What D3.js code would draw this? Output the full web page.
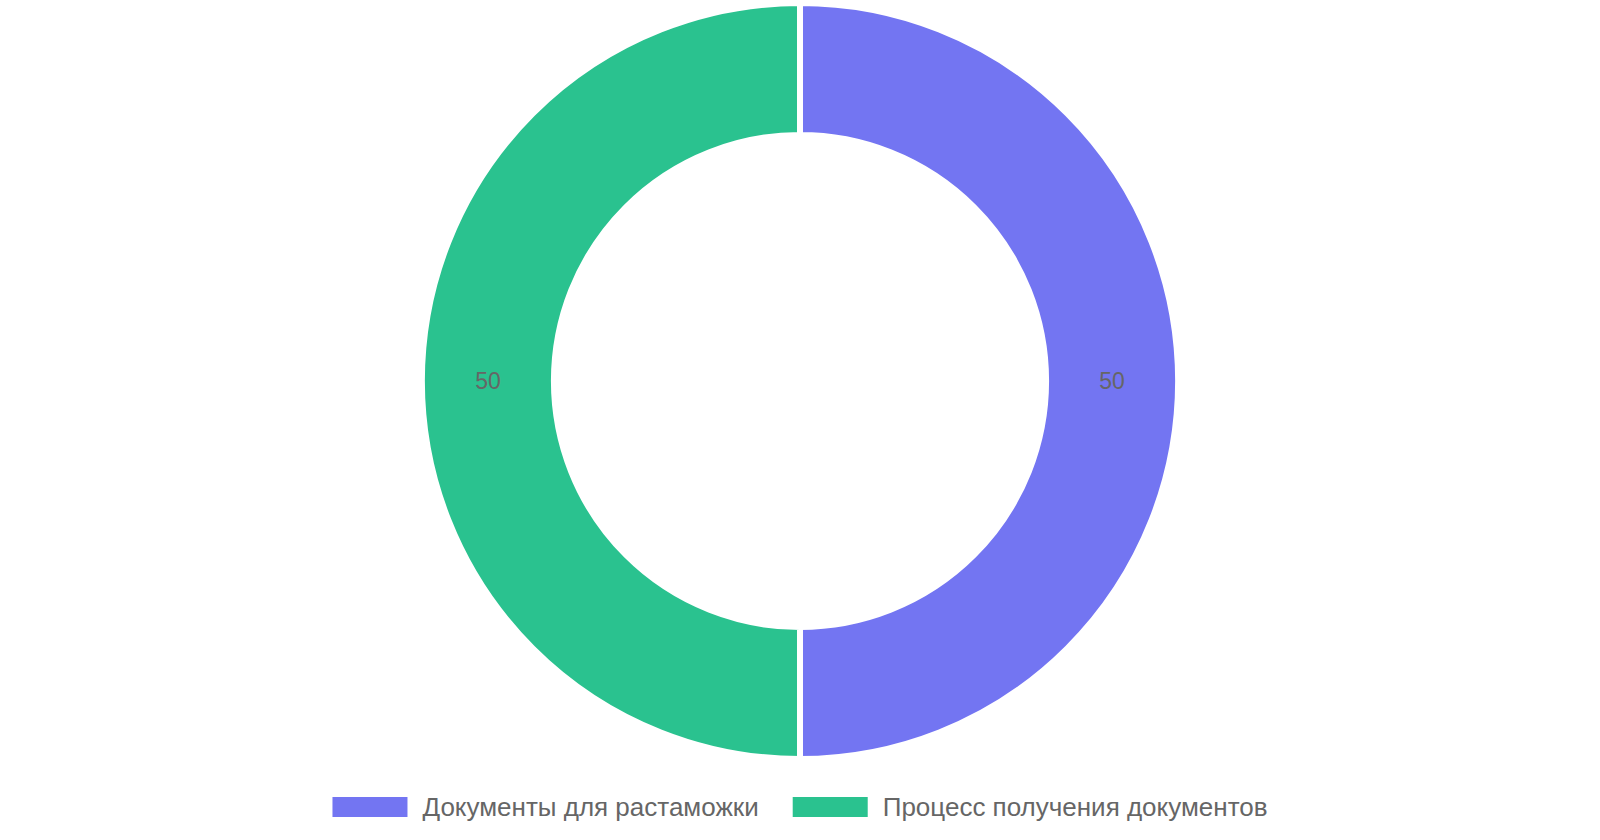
<!DOCTYPE html>
<html lang="ru">
  <head>
    <meta charset="UTF-8" />
    <title>Doughnut</title>
    <style>
      body {
        margin: 0;
        background: #fff;
      }

      text {
        font-family: "Liberation Sans", Arial, sans-serif;
        fill: #666;
      }

      .slice {
        stroke: #fff;
        stroke-width: 6px;
      }
    </style>
  </head>

  <body>
    <script src="https://cdnjs.cloudflare.com/ajax/libs/d3/7.8.5/d3.min.js"></script>
    <script>

      // Data
      var labels = ["Документы для растаможки", "Процесс получения документов"];
      var values = [50, 50];
      var colors = ["#7375f2", "#2ac28f"];

      var w = 1600,
          h = 840;

      var cx = 800,
          cy = 381,
          outerR = 378,
          innerR = 246;

      var svg = d3.select("body").append("svg")
        .attr("width", w)
        .attr("height", h);

      var pie = d3.pie()
        .sort(null)
        .value(function(d) { return d; });

      var arcs = pie(values);

      var arc = d3.arc()
        .innerRadius(innerR)
        .outerRadius(outerR);

      var labelArc = d3.arc()
        .innerRadius((innerR + outerR) / 2)
        .outerRadius((innerR + outerR) / 2);

      var g = svg.append("g")
        .attr("transform", "translate(" + cx + "," + cy + ")");

      g.selectAll("path")
        .data(arcs)
        .enter()
        .append("path")
        .attr("class", "slice")
        .attr("fill", function(d, i) { return colors[i]; })
        .attr("d", arc);

      // Value labels in the middle of each ring segment
      g.selectAll("text.value")
        .data(arcs)
        .enter()
        .append("text")
        .attr("class", "value")
        .attr("transform", function(d) { return "translate(" + labelArc.centroid(d) + ")"; })
        .attr("text-anchor", "middle")
        .attr("dy", "0.35em")
        .style("font-size", "23px")
        .text(function(d) { return d.value; });

      // Legend, centred under the chart
      var boxW = 75, boxH = 20, boxGap = 15, itemGap = 34;
      var legend = svg.append("g");

      var items = legend.selectAll("g")
        .data(labels)
        .enter()
        .append("g");

      items.append("rect")
        .attr("width", boxW)
        .attr("height", boxH)
        .attr("y", 797)
        .attr("fill", function(d, i) { return colors[i]; });

      items.append("text")
        .attr("x", boxW + boxGap)
        .attr("y", 816)
        .style("font-size", "26px")
        .text(function(d) { return d; });

      // Lay items out left to right, then centre the whole row
      var x = 0;
      items.each(function() {
        var t = d3.select(this).select("text").node().getComputedTextLength();
        d3.select(this).attr("transform", "translate(" + x + ",0)");
        x += boxW + boxGap + t + itemGap;
      });
      var total = x - itemGap;
      legend.attr("transform", "translate(" + (w - total) / 2 + ",0)");

    </script>
  </body>
</html>
